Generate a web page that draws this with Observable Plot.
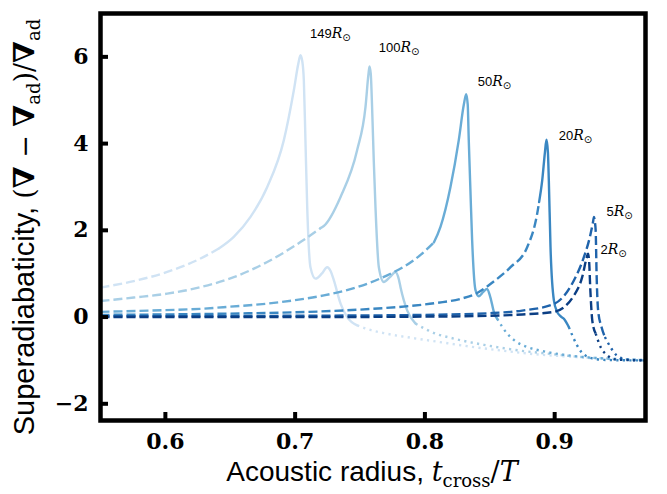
<!DOCTYPE html>
<html>
<head>
<meta charset="utf-8">
<script src="https://cdn.jsdelivr.net/npm/d3@7"></script>
<script src="https://cdn.jsdelivr.net/npm/@observablehq/plot@0.6"></script>
<style>
  html, body { margin: 0; padding: 0; background: white; }
</style>
</head>
<body>
<div id="chart"></div>
<script>
// ---- axis ticks ----
const xTicks = [0.6, 0.7, 0.8, 0.9];
const xTickLabels = ["0.6", "0.7", "0.8", "0.9"];
const yTicks = [-2, 0, 2, 4, 6];
const yTickLabels = ["−2", "0", "2", "4", "6"];
const xDomain = [0.55, 0.97];
const yDomain = [-2.385, 7.0];

// ---- series: [acoustic radius, superadiabaticity] ----
const dashed149 = [[0.55,0.68],[0.5757,0.83],[0.6014,1.04],[0.6271,1.35],[0.6412,1.58]];
const solid149 = [[0.6412,1.58],[0.6527,1.85],[0.6656,2.31],[0.6785,3.0],[0.6913,4.08],[0.699,5.23],[0.7025,5.85],[0.7041,6.04],[0.7055,5.9],[0.7067,5.46],[0.708,4.0],[0.7093,2.54],[0.7118,1.15],[0.7157,0.886],[0.7205,1.0],[0.7247,1.15],[0.7275,1.05],[0.7298,0.85],[0.735,0.31],[0.7401,0.0],[0.7478,-0.19]];
const dotted149 = [[0.7478,-0.19],[0.755,-0.27],[0.77,-0.38],[0.79,-0.48],[0.81,-0.57],[0.83,-0.66],[0.85,-0.74],[0.87,-0.81],[0.89,-0.87],[0.91,-0.91],[0.93,-0.95],[0.95,-0.97],[0.97,-0.99]];

const dashed100 = [[0.55,0.37],[0.5757,0.45],[0.6014,0.54],[0.6271,0.69],[0.6527,0.92],[0.6785,1.27],[0.7041,1.73],[0.7195,2.05]];
const solid100 = [[0.7195,2.05],[0.7221,2.1],[0.735,2.77],[0.7478,3.85],[0.7542,4.84],[0.7565,5.6],[0.7573,5.78],[0.7583,5.6],[0.7593,4.84],[0.7606,3.6],[0.7619,2.54],[0.7645,1.15],[0.7683,0.81],[0.773,0.92],[0.7773,1.04],[0.78,0.86],[0.7812,0.69],[0.7864,0.15],[0.7928,-0.15]];
const dotted100 = [[0.7928,-0.15],[0.80,-0.27],[0.81,-0.40],[0.8201,-0.48],[0.83,-0.55],[0.8455,-0.64],[0.87,-0.76],[0.8968,-0.85],[0.92,-0.92],[0.95,-0.97],[0.97,-0.99]];

const dashed50 = [[0.55,0.12],[0.6,0.16],[0.6271,0.19],[0.65,0.24],[0.6785,0.31],[0.7,0.39],[0.7221,0.50],[0.7478,0.69],[0.7735,1.0],[0.79,1.28],[0.7992,1.5],[0.8069,1.72]];
const solid50 = [[0.8069,1.72],[0.812,2.08],[0.8197,3.0],[0.8261,4.08],[0.83,4.9],[0.8318,5.14],[0.833,4.9],[0.8338,4.08],[0.8351,2.9],[0.8364,1.77],[0.839,0.62],[0.8415,0.48],[0.845,0.58],[0.8479,0.65],[0.8505,0.45],[0.8535,0.08],[0.8557,-0.04]];
const dotted50 = [[0.8557,-0.04],[0.8634,-0.38],[0.87,-0.56],[0.8788,-0.69],[0.89,-0.78],[0.9097,-0.88],[0.93,-0.94],[0.95,-0.97],[0.97,-0.99]];

const dashed20 = [[0.55,0.05],[0.65,0.08],[0.72,0.13],[0.76,0.19],[0.79,0.26],[0.81,0.33],[0.8274,0.42],[0.84,0.55],[0.853,0.82],[0.866,1.15],[0.8788,1.61],[0.8865,2.38],[0.888,2.65]];
const solid20 = [[0.888,2.65],[0.8904,3.15],[0.8925,3.8],[0.8937,4.09],[0.8948,3.8],[0.8955,3.15],[0.8968,1.61],[0.8994,0.385],[0.9019,0.12],[0.9045,0.02],[0.9071,-0.04],[0.9109,-0.23]];
const dotted20 = [[0.9109,-0.23],[0.914,-0.45],[0.9174,-0.66],[0.921,-0.82],[0.925,-0.91],[0.93,-0.96],[0.94,-0.99],[0.97,-1.0]];

const dashed5 = [[0.55,0.02],[0.70,0.03],[0.80,0.05],[0.85,0.09],[0.875,0.15],[0.8993,0.30],[0.9149,0.85],[0.9225,1.38],[0.9277,1.92],[0.9296,2.2],[0.9303,2.31],[0.931,2.19],[0.9316,2.0],[0.9323,1.0],[0.9335,0.15],[0.9361,-0.23],[0.9387,-0.46]];
const solid5 = [];
const dotted5 = [[0.9387,-0.46],[0.9438,-0.73],[0.9476,-0.88],[0.9527,-0.96],[0.96,-0.99],[0.97,-1.0]];

const dashed2 = [[0.55,0.0],[0.70,0.0],[0.80,0.01],[0.85,0.03],[0.875,0.06],[0.8993,0.12],[0.9149,0.5],[0.9212,0.92],[0.9245,1.35],[0.9257,1.46],[0.9265,1.31],[0.9275,0.62],[0.929,-0.08],[0.9316,-0.38]];
const solid2 = [];
const dotted2 = [[0.9316,-0.38],[0.9354,-0.69],[0.9405,-0.88],[0.947,-0.98],[0.97,-1.0]];

// ---- series names, colours, label anchors ----
const radii = ["149", "100", "50", "20", "5", "2"];
const seriesColors = ["#d0e3f4", "#a9cfe6", "#69acd6", "#3a87c2", "#1f63ab", "#0b3e84"];
const labelX = [0.7114, 0.7645, 0.8408, 0.9032, 0.9400, 0.9353];
const labelY = [6.52, 6.21, 5.42, 4.17, 2.42, 1.54];

const segments = {
  "149": [dashed149, solid149, dotted149],
  "100": [dashed100, solid100, dotted100],
  "50": [dashed50, solid50, dotted50],
  "20": [dashed20, solid20, dotted20],
  "5": [dashed5, solid5, dotted5],
  "2": [dashed2, solid2, dotted2]
};

const lineStyles = [
  {strokeWidth: 2.4, strokeDasharray: "9,4", linecap: "butt"},
  {strokeWidth: 2.4, strokeDasharray: null, linecap: "round"},
  {strokeWidth: 2.4, strokeDasharray: "2.2,4.3", linecap: "butt"}
];

// geometry of the frame (pixels) for converting tick length into data units
const W = 667, H = 494, mL = 100, mR = 22, mT = 13, mB = 74;
const tickLen = 8;
const xTickLenData = (yDomain[1] - yDomain[0]) * tickLen / (H - mT - mB);
const yTickLenData = (xDomain[1] - xDomain[0]) * tickLen / (W - mL - mR);

const marks = [];
radii.forEach((r, i) => {
  segments[r].forEach((seg, k) => {
    if (!seg.length) return;
    const opts = {
      x: d => d[0], y: d => d[1],
      stroke: seriesColors[i],
      strokeWidth: lineStyles[k].strokeWidth,
      strokeLinecap: lineStyles[k].linecap,
      curve: "monotone-x",
      clip: true
    };
    if (lineStyles[k].strokeDasharray) opts.strokeDasharray = lineStyles[k].strokeDasharray;
    marks.push(Plot.line(seg, opts));
  });
});

const labelRows = radii.map((r, i) => ({r, x: labelX[i], y: labelY[i]}));
marks.push(Plot.text(labelRows, {
  x: "x", y: "y", text: d => d.r + "R⊙",
  textAnchor: "start", fontSize: 13, fill: "black"
}));

marks.push(Plot.ruleX(xTicks, {x: d => d, y1: yDomain[0], y2: yDomain[0] + xTickLenData, stroke: "black", strokeWidth: 4}));
marks.push(Plot.ruleY(yTicks, {y: d => d, x1: xDomain[0], x2: xDomain[0] + yTickLenData, stroke: "black", strokeWidth: 4}));
marks.push(Plot.axisX(xTicks, {
  tickSize: 0, tickPadding: 13, label: null,
  tickFormat: d => xTickLabels[xTicks.indexOf(d)],
  fontSize: 22, fontFamily: "DejaVu Serif", fontWeight: "bold"
}));
marks.push(Plot.axisY(yTicks, {
  tickSize: 0, tickPadding: 12, label: null,
  tickFormat: d => yTickLabels[yTicks.indexOf(d)],
  fontSize: 22, fontFamily: "DejaVu Serif", fontWeight: "bold"
}));
marks.push(Plot.frame({stroke: "black", strokeWidth: 4.5}));

const chart = Plot.plot({
  width: W,
  height: H,
  marginLeft: mL,
  marginRight: mR,
  marginTop: mT,
  marginBottom: mB,
  x: {domain: xDomain},
  y: {domain: yDomain},
  style: {background: "white", fontFamily: "Liberation Sans, Arial, sans-serif"},
  marks
});

document.getElementById("chart").appendChild(chart);

const svg = d3.select(chart);

// Radius labels: number + italic R + subscript sun symbol
svg.selectAll("text").filter(function() {
  return this.textContent.endsWith("R⊙") && this.childElementCount === 0;
}).each(function() {
  const t = d3.select(this);
  const num = t.text().replace("R⊙", "");
  t.text(null);
  t.append("tspan").attr("font-family", "Liberation Sans, Arial, sans-serif").attr("font-size", 13).text(num);
  t.append("tspan").attr("font-family", "DejaVu Serif").attr("font-style", "italic").attr("font-size", 14).text("R");
  t.append("tspan").attr("font-family", "DejaVu Sans").attr("font-size", 10).attr("dy", 3).text("⊙");
});

// X axis title
const xt = svg.append("text")
  .attr("x", 372).attr("y", 481)
  .attr("text-anchor", "middle")
  .attr("font-size", 28)
  .attr("fill", "black")
  .attr("font-family", "Liberation Sans, Arial, sans-serif");
xt.append("tspan").text("Acoustic radius, ");
xt.append("tspan").attr("font-family", "DejaVu Serif").attr("font-style", "italic").attr("font-size", 27).text("t");
xt.append("tspan").attr("font-family", "DejaVu Serif").attr("font-size", 18).attr("dy", 6).text("cross");
xt.append("tspan").attr("font-family", "DejaVu Serif").attr("font-size", 27).attr("dy", -6).text("/");
xt.append("tspan").attr("font-family", "DejaVu Serif").attr("font-style", "italic").attr("font-size", 27).text("T");

// Y axis title
const yt = svg.append("text")
  .attr("transform", "translate(34,227) rotate(-90)")
  .attr("text-anchor", "middle")
  .attr("font-size", 29)
  .attr("fill", "black")
  .attr("font-family", "Liberation Sans, Arial, sans-serif");
yt.append("tspan").text("Superadiabaticity, ");
yt.append("tspan").attr("font-family", "DejaVu Serif").attr("font-size", 27).text("(");
yt.append("tspan").attr("font-family", "DejaVu Serif").attr("font-weight", "bold").attr("font-size", 29).text("∇");
yt.append("tspan").attr("font-family", "DejaVu Serif").attr("font-size", 27).text(" − ");
yt.append("tspan").attr("font-family", "DejaVu Serif").attr("font-weight", "bold").attr("font-size", 29).text("∇");
yt.append("tspan").attr("font-family", "DejaVu Serif").attr("font-size", 18).attr("dy", 6).text("ad");
yt.append("tspan").attr("font-family", "DejaVu Serif").attr("font-size", 27).attr("dy", -6).text(")/");
yt.append("tspan").attr("font-family", "DejaVu Serif").attr("font-weight", "bold").attr("font-size", 29).text("∇");
yt.append("tspan").attr("font-family", "DejaVu Serif").attr("font-size", 18).attr("dy", 6).text("ad");
</script>
</body>
</html>
